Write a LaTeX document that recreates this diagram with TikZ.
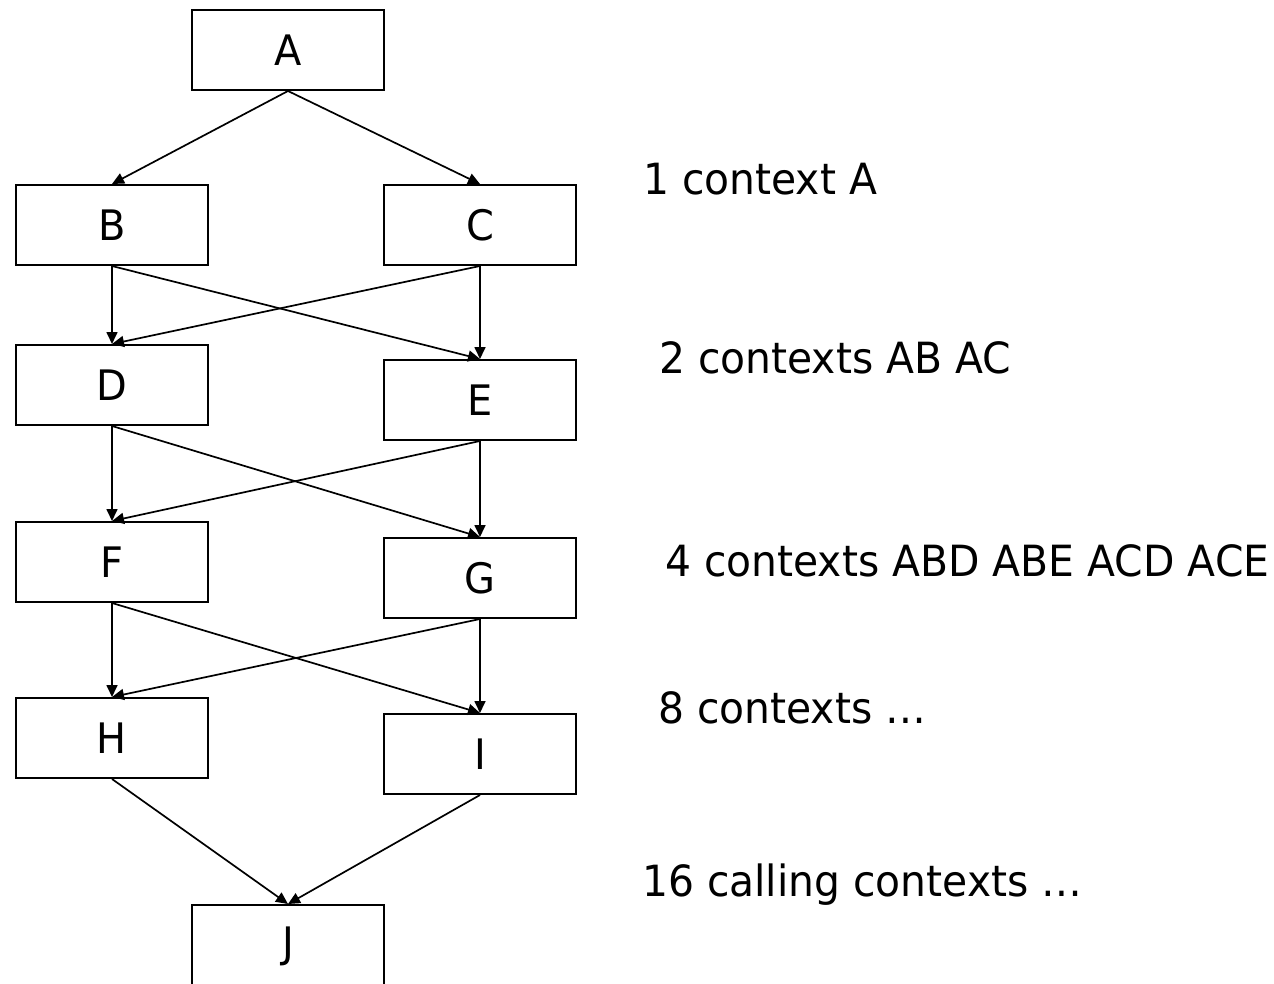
\documentclass[tikz,border=0pt]{standalone}
\usepackage{fontspec}
\setmainfont{DejaVu Sans}
\newfontfamily\labfont[FakeStretch=0.95]{DejaVu Sans}
\usetikzlibrary{arrows.meta}
\begin{document}
\begin{tikzpicture}[x=1pt,y=-1pt,
  box/.style={draw=black,line width=2pt,minimum width=192pt,minimum height=80pt,inner sep=0pt,font=\labfont\fontsize{42}{42}\selectfont},
  conn/.style={line width=1.7pt,-{Triangle[length=12pt,width=11pt]}},
  lab/.style={anchor=base west,inner sep=0pt,font=\labfont\fontsize{43}{43}\selectfont}]
\clip (0,0) rectangle (1274,984);
\fill[white] (0,0) rectangle (1274,984);
\node[box] (A) at (288,50) {A};
\node[box] (B) at (112,225) {B};
\node[box] (C) at (480,225) {C};
\node[box] (D) at (112,385) {D};
\node[box] (E) at (480,400) {E};
\node[box] (F) at (112,562) {F};
\node[box] (G) at (480,578) {G};
\node[box] (H) at (112,738) {H};
\node[box] (I) at (480,754) {I};
\node[box,minimum height=82pt] (J) at (288,946) {J};
\draw[conn] (A.south) -- (B.north);
\draw[conn] (A.south) -- (C.north);
\draw[conn] (B.south) -- (D.north);
\draw[conn] (B.south) -- (E.north);
\draw[conn] (C.south) -- (D.north);
\draw[conn] (C.south) -- (E.north);
\draw[conn] (D.south) -- (F.north);
\draw[conn] (D.south) -- (G.north);
\draw[conn] (E.south) -- (F.north);
\draw[conn] (E.south) -- (G.north);
\draw[conn] (F.south) -- (H.north);
\draw[conn] (F.south) -- (I.north);
\draw[conn] (G.south) -- (H.north);
\draw[conn] (G.south) -- (I.north);
\draw[conn] (H.south) -- (J.north);
\draw[conn] (I.south) -- (J.north);
\node[lab] (l1) at (643,195) {1 context A};
\node[lab] (l2) at (659,373) {2 contexts AB AC};
\node[lab] (l4) at (665,576) {4 contexts ABD ABE ACD ACE};
\node[lab] (l8) at (658,723) {8 contexts …};
\node[lab] (l16) at (642,896) {16 calling contexts …};
\end{tikzpicture}
\end{document}
